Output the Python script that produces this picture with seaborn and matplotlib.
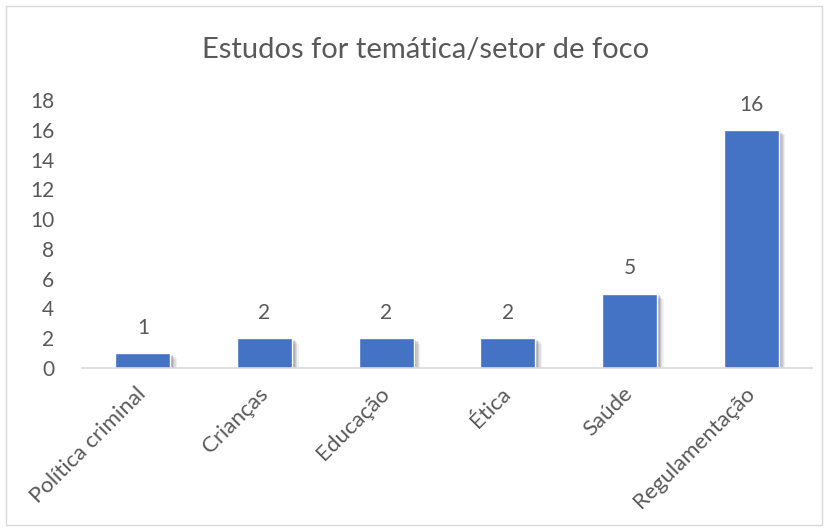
import matplotlib
matplotlib.use("Agg")
import matplotlib.pyplot as plt
import matplotlib.patheffects as pe
import matplotlib.transforms as mtransforms
from matplotlib.patches import Rectangle
import seaborn as sns
import pandas as pd

categories = ["Política criminal", "Crianças", "Educação", "Ética", "Saúde", "Regulamentação"]
values = [1, 2, 2, 2, 5, 16]
yticks = [0, 2, 4, 6, 8, 10, 12, 14, 16, 18]
title = "Estudos for temática/setor de foco"

sns.set_theme(style="white")
plt.rcParams['font.family'] = ['Lato', 'DejaVu Sans']

txt = "#595959"
df = pd.DataFrame({"cat": categories, "val": values})

fig = plt.figure(figsize=(8.29, 5.31), dpi=100)
W, H = 829, 531
ax = fig.add_axes([82 / W, 1 - 368 / H, 730 / W, 268 / H])

sns.barplot(data=df, x="cat", y="val", color="#4472C4", width=0.45, ax=ax,
            saturation=1)
for p in ax.patches:
    p.set_path_effects([
        pe.SimplePatchShadow(offset=(5, -4), shadow_rgbFace="#000000", alpha=0.06),
        pe.SimplePatchShadow(offset=(4, -3), shadow_rgbFace="#000000", alpha=0.08),
        pe.SimplePatchShadow(offset=(3, -2), shadow_rgbFace="#000000", alpha=0.10),
        pe.SimplePatchShadow(offset=(2, -1), shadow_rgbFace="#000000", alpha=0.12),
        pe.Normal()])

ax.set_ylim(0, 18)
ax.set_yticks(yticks)
ax.set_xlim(-0.5, len(categories) - 0.5)
ax.set_xlabel("")
ax.set_ylabel("")
for s in ["top", "right", "left"]:
    ax.spines[s].set_visible(False)
ax.spines["bottom"].set_color("#D9D9D9")
ax.spines["bottom"].set_linewidth(1.2)
ax.tick_params(axis="both", length=0, colors=txt, labelsize=15)
ax.tick_params(axis="y", pad=20)
ax.set_xticks(range(len(categories)))
ax.set_xticklabels(categories, rotation=45, ha="right", rotation_mode="anchor", color=txt, fontsize=16)
ax.tick_params(axis="x", pad=9)
offset = mtransforms.ScaledTranslation(-7 / 100, -3 / 100, fig.dpi_scale_trans)
for lab in ax.get_xticklabels():
    lab.set_transform(lab.get_transform() + offset)

for i, v in enumerate(values):
    ax.annotate(str(v), (i, v), xytext=(0, 11), textcoords="offset points",
                ha="center", va="bottom", color=txt, fontsize=15)

fig.text(426 / W, 1 - 50 / H, title, ha="center", va="center", color=txt, fontsize=21)
fig.patches.append(Rectangle((6 / W, 6 / H), 816 / W, 519 / H, transform=fig.transFigure,
                             fill=False, edgecolor="#D9D9D9", linewidth=1))

fig.savefig("out.png", dpi=100)
